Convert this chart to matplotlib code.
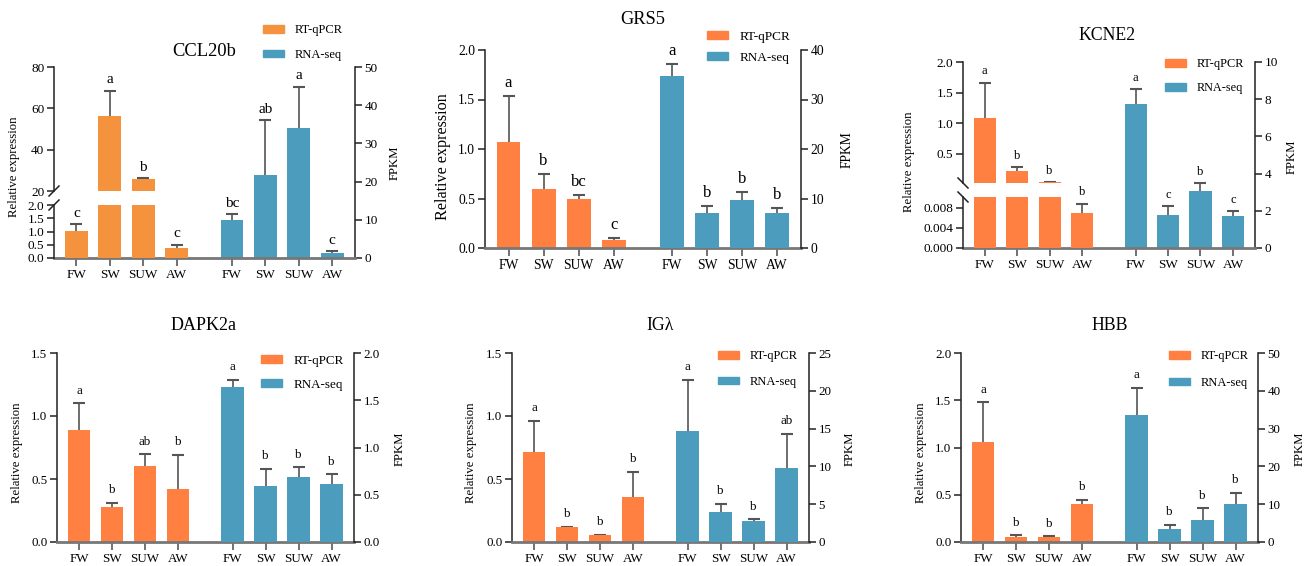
import numpy as np
import matplotlib
matplotlib.use("Agg")
import matplotlib.pyplot as plt
from matplotlib.patches import Patch
from matplotlib.lines import Line2D

plt.rcParams["font.family"] = ["Liberation Serif", "DejaVu Serif"]

# ---------- Data ----------
groups = ["FW", "SW", "SUW", "AW"]

ccl20b_qpcr = [1.03, 56.3, 25.8, 0.38]
ccl20b_qpcr_err = [0.24, 12.1, 0.3, 0.12]
ccl20b_fpkm = [10.0, 21.7, 34.0, 1.2]
ccl20b_fpkm_err = [1.4, 14.3, 10.8, 0.55]
ccl20b_qpcr_sig = ["c", "a", "b", "c"]
ccl20b_fpkm_sig = ["bc", "ab", "a", "c"]

grs5_qpcr = [1.07, 0.596, 0.495, 0.08]
grs5_qpcr_err = [0.465, 0.148, 0.045, 0.018]
grs5_fpkm = [34.7, 7.14, 9.7, 7.14]
grs5_fpkm_err = [2.5, 1.41, 1.6, 0.96]
grs5_qpcr_sig = ["a", "b", "bc", "c"]
grs5_fpkm_sig = ["a", "b", "b", "b"]

kcne2_qpcr = [1.085, 0.224, 0.035, 0.0071]
kcne2_qpcr_err = [0.58, 0.062, 0.005, 0.0018]
kcne2_fpkm = [7.76, 1.79, 3.08, 1.74]
kcne2_fpkm_err = [0.77, 0.45, 0.39, 0.25]
kcne2_qpcr_sig = ["a", "b", "b", "b"]
kcne2_fpkm_sig = ["a", "c", "b", "c"]

dapk2a_qpcr = [0.887, 0.276, 0.603, 0.417]
dapk2a_qpcr_err = [0.213, 0.034, 0.093, 0.276]
dapk2a_fpkm = [1.64, 0.588, 0.69, 0.616]
dapk2a_fpkm_err = [0.077, 0.184, 0.10, 0.10]
dapk2a_qpcr_sig = ["a", "b", "ab", "b"]
dapk2a_fpkm_sig = ["a", "b", "b", "b"]

igl_qpcr = [0.711, 0.117, 0.053, 0.361]
igl_qpcr_err = [0.253, 0.003, 0.003, 0.194]
igl_fpkm = [14.65, 3.94, 2.79, 9.73]
igl_fpkm_err = [6.75, 1.1, 0.21, 4.6]
igl_qpcr_sig = ["a", "b", "b", "b"]
igl_fpkm_sig = ["a", "b", "b", "ab"]

hbb_qpcr = [1.058, 0.053, 0.053, 0.406]
hbb_qpcr_err = [0.42, 0.017, 0.007, 0.042]
hbb_fpkm = [33.6, 3.53, 5.9, 10.1]
hbb_fpkm_err = [7.1, 1.07, 3.0, 2.9]
hbb_qpcr_sig = ["a", "b", "b", "b"]
hbb_fpkm_sig = ["a", "b", "b", "b"]

# ---------- Style ----------
ORANGE = "#FF8040"
ORANGE_LIGHT = "#F5923E"
BLUE = "#4B9CBD"
W, H = 1312, 566
XQ = np.arange(4)
XS = np.arange(4) + 4.65
XLIM = (-0.67, 8.33)
WIDTH = 0.68

fig = plt.figure(figsize=(W / 100, H / 100), dpi=100)


def rect(l, t, r, b):
    return [l / W, 1 - b / H, (r - l) / W, (b - t) / H]


def ftext(x, y, s, fs, **kw):
    fig.text(x / W, 1 - y / H, s, fontsize=fs, ha="center", va="center", **kw)


def clean(ax, side, fs):
    for sp in ax.spines.values():
        sp.set_visible(False)
    ax.spines[side].set_visible(True)
    ax.spines[side].set_color("#222")
    ax.spines[side].set_linewidth(1.1)
    ax.tick_params(axis="y", length=5, width=1.1, color="#222", labelsize=fs, pad=2)
    ax.set_xlim(*XLIM)
    ax.patch.set_alpha(0)


def bottom_axis(ax, fs):
    ax.spines["bottom"].set_visible(True)
    ax.spines["bottom"].set_color("#777")
    ax.spines["bottom"].set_linewidth(2)
    ax.set_xticks(list(XQ) + list(XS))
    ax.set_xticklabels(groups * 2)
    ax.tick_params(axis="x", length=6, width=1.3, color="#666", labelsize=fs, pad=2)


def bars(ax, x, vals, errs, color, keep=None):
    ax.bar(x, vals, width=WIDTH, color=color, zorder=2)
    idx = [i for i in range(len(vals)) if keep is None or keep[i]]
    if not idx:
        return
    xs = [x[i] for i in idx]
    vs = [vals[i] for i in idx]
    es = [errs[i] for i in idx]
    eb = ax.errorbar(xs, vs, yerr=[np.zeros(len(vs)), es], fmt="none",
                     ecolor="#555", elinewidth=1.2, capsize=4.5, capthick=1.5, zorder=1)
    eb[1][0].set_visible(False)
    eb[1][1].set_color("#111")


def letters(ax, x, vals, errs, sig, fs, off):
    for xi, v, e, t in zip(x, vals, errs, sig):
        ax.annotate(t, (xi, v + e), xytext=(0, off), textcoords="offset points",
                    ha="center", va="baseline", fontsize=fs, annotation_clip=False)


def legend(x, y, fs, colour, spacing):
    fs_px = fs * 100 / 72
    handles = [Patch(color=colour), Patch(color=BLUE)]
    fig.legend(handles, ["RT-qPCR", "RNA-seq"], loc="upper left",
               bbox_to_anchor=(x / W, 1 - (y - 0.62 * fs_px) / H), frameon=False,
               fontsize=fs, handlelength=21 / fs_px, handleheight=0.55,
               handletextpad=0.85, labelspacing=(spacing - fs_px) / fs_px,
               borderpad=0, borderaxespad=0)


def plain_panel(box, q, qe, s, se, qsig, ssig, qlim, qticks, slim, sticks,
                colour, tick_fs, let_fs, let_off, qfmt="%.1f", sfmt="%g"):
    ax = fig.add_axes(rect(*box))
    clean(ax, "left", tick_fs)
    bottom_axis(ax, tick_fs)
    ax2 = ax.twinx()
    clean(ax2, "right", tick_fs)
    bars(ax, XQ, q, qe, colour)
    bars(ax2, XS, s, se, BLUE)
    letters(ax, XQ, q, qe, qsig, let_fs, let_off)
    letters(ax2, XS, s, se, ssig, let_fs, let_off)
    ax.set_ylim(*qlim)
    ax.set_yticks(qticks)
    ax.set_yticklabels([qfmt % t for t in qticks])
    ax2.set_ylim(*slim)
    ax2.set_yticks(sticks)
    ax2.set_yticklabels([sfmt % t for t in sticks])


def broken_panel(box, split, q, qe, s, se, qsig, ssig, lo_lim, lo_ticks, hi_lim, hi_ticks,
                 slim, sticks, colour, tick_fs, let_fs, let_off, lo_fmt, hi_fmt, mark):
    l, t, r, b = box
    lo_top, hi_bot = split
    axr = fig.add_axes(rect(l, t, r, b))
    clean(axr, "right", tick_fs)
    axr.yaxis.tick_right()
    bottom_axis(axr, tick_fs)
    axr.set_ylim(*slim)
    axr.set_yticks(sticks)
    axr.set_yticklabels(["%g" % v for v in sticks])
    bars(axr, XS, s, se, BLUE)
    letters(axr, XS, s, se, ssig, let_fs, let_off)

    tops = [v + e for v, e in zip(q, qe)]
    in_hi = [tp >= hi_lim[0] for tp in tops]
    in_lo = [not h for h in in_hi]

    ax_lo = fig.add_axes(rect(l, lo_top, r, b))
    ax_hi = fig.add_axes(rect(l, t, r, hi_bot))
    for a, lim, ticks, fmt, keep in [(ax_lo, lo_lim, lo_ticks, lo_fmt, in_lo),
                                     (ax_hi, hi_lim, hi_ticks, hi_fmt, in_hi)]:
        clean(a, "left", tick_fs)
        a.set_xticks([])
        bars(a, XQ, q, qe, colour, keep)
        a.set_ylim(*lim)
        a.set_yticks(ticks)
        a.set_yticklabels([fmt % v for v in ticks])
    for xi, v, e, sg, h in zip(XQ, q, qe, qsig, in_hi):
        letters(ax_hi if h else ax_lo, [xi], [v], [e], [sg], let_fs, let_off)

    # break marks on the left axis
    for yy in (hi_bot, lo_top):
        fig.add_artist(Line2D([(l - 5) / W, (l + 5) / W],
                              [1 - (yy + 5 * mark) / H, 1 - (yy - 5 * mark) / H],
                              color="#222", lw=1.1))


# ---------- CCL20b ----------
broken_panel((54, 67, 355, 258), (205, 191), ccl20b_qpcr, ccl20b_qpcr_err,
             ccl20b_fpkm, ccl20b_fpkm_err, ccl20b_qpcr_sig, ccl20b_fpkm_sig,
             (0, 2), [0, 0.5, 1.0, 1.5, 2.0], (20, 80), [20, 40, 60, 80],
             (0, 50), [0, 10, 20, 30, 40, 50], ORANGE_LIGHT, 9.5, 11, 5.5,
             "%.1f", "%d", 1)
ftext(204, 52, "CCL20b", 13.3)
ftext(14, 167, "Relative expression", 9.2, rotation=90)
ftext(395, 163, "FPKM", 9.2, rotation=90)
legend(263, 32, 9, ORANGE_LIGHT, 25)

# ---------- GRS5 ----------
plain_panel((485, 50, 801, 248), grs5_qpcr, grs5_qpcr_err, grs5_fpkm, grs5_fpkm_err,
            grs5_qpcr_sig, grs5_fpkm_sig, (0, 2), [0, 0.5, 1.0, 1.5, 2.0],
            (0, 40), [0, 10, 20, 30, 40], ORANGE, 9.8, 12, 6.5)
ftext(643, 20, "GRS5", 13.2)
ftext(443, 157, "Relative expression", 11.6, rotation=90)
ftext(847, 150, "FPKM", 9.8, rotation=90)
legend(707, 39, 9.5, ORANGE, 22)

# ---------- KCNE2 ----------
broken_panel((963, 62, 1255, 248), (197, 183), kcne2_qpcr, kcne2_qpcr_err,
             kcne2_fpkm, kcne2_fpkm_err, kcne2_qpcr_sig, kcne2_fpkm_sig,
             (0, 0.0102), [0, 0.004, 0.008], (0.025, 2.0), [0.5, 1.0, 1.5, 2.0],
             (0, 10), [0, 2, 4, 6, 8, 10], ORANGE, 9.5, 9, 6,
             "%.3f", "%.1f", -1)
ftext(1107, 35, "KCNE2", 12.8)
ftext(909, 162, "Relative expression", 9.2, rotation=90)
ftext(1292, 157, "FPKM", 9.2, rotation=90)
legend(1165, 66, 8.8, ORANGE, 24)

# ---------- DAPK2a ----------
plain_panel((57, 353, 354, 542), dapk2a_qpcr, dapk2a_qpcr_err, dapk2a_fpkm, dapk2a_fpkm_err,
            dapk2a_qpcr_sig, dapk2a_fpkm_sig, (0, 1.5), [0, 0.5, 1.0, 1.5],
            (0, 2.0), [0, 0.5, 1.0, 1.5, 2.0], ORANGE, 9.4, 9.3, 7, sfmt="%.1f")
ftext(204, 325, "DAPK2a", 13)
ftext(17, 453, "Relative expression", 9.2, rotation=90)
ftext(400, 449, "FPKM", 9.2, rotation=90)
legend(261, 363, 9.4, ORANGE, 25)

# ---------- IGλ ----------
plain_panel((512, 353, 809, 542), igl_qpcr, igl_qpcr_err, igl_fpkm, igl_fpkm_err,
            igl_qpcr_sig, igl_fpkm_sig, (0, 1.5), [0, 0.5, 1.0, 1.5],
            (0, 25), [0, 5, 10, 15, 20, 25], ORANGE, 9.4, 9.3, 7)
ftext(660, 326, "IGλ", 12.8)
ftext(471, 453, "Relative expression", 9.2, rotation=90)
ftext(850, 449, "FPKM", 9.2, rotation=90)
legend(718, 358, 9, ORANGE, 26)

# ---------- HBB ----------
plain_panel((961, 353, 1258, 542), hbb_qpcr, hbb_qpcr_err, hbb_fpkm, hbb_fpkm_err,
            hbb_qpcr_sig, hbb_fpkm_sig, (0, 2.0), [0, 0.5, 1.0, 1.5, 2.0],
            (0, 50), [0, 10, 20, 30, 40, 50], ORANGE, 9.4, 9.3, 7)
ftext(1110, 326, "HBB", 12.8)
ftext(921, 453, "Relative expression", 9.2, rotation=90)
ftext(1300, 449, "FPKM", 9.2, rotation=90)
legend(1169, 358, 9, ORANGE, 27)

fig.savefig("out.png", dpi=100)
